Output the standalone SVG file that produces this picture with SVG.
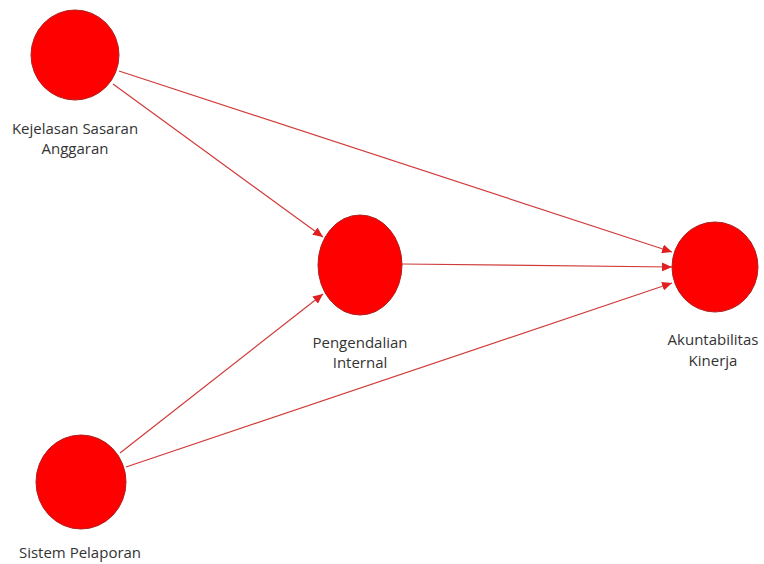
<svg xmlns="http://www.w3.org/2000/svg" width="764" height="564" viewBox="0 0 764 564">
<style>
.node{fill:#ff0000;stroke:#b02020;stroke-width:1}
.lbl{font-family:"Open Sans","Noto Sans",sans-serif;font-size:15px;fill:#333;text-anchor:middle}
.edge{stroke:#d03a3a;stroke-width:1.2;fill:none;marker-end:url(#arr)}
</style>
<defs>
<marker id="arr" markerUnits="userSpaceOnUse" markerWidth="11" markerHeight="9" refX="10" refY="4.5" orient="auto">
<path d="M0,0 L10,4.5 L0,9 z" fill="#e02020"/>
</marker>
</defs>
<rect width="764" height="564" fill="#ffffff"/>
<g id="connectors">
<line class="edge" x1="119" y1="71" x2="672" y2="252"/>
<line class="edge" x1="113" y1="84" x2="323" y2="237"/>
<line class="edge" x1="402" y1="264" x2="672" y2="267"/>
<line class="edge" x1="120" y1="453" x2="323" y2="294"/>
<line class="edge" x1="126" y1="467" x2="672" y2="283"/>
</g>
<g id="node-kejelasan">
<ellipse class="node" cx="75" cy="55" rx="44" ry="45"/>
<text class="lbl" x="75" y="134">Kejelasan Sasaran</text>
<text class="lbl" x="75" y="154">Anggaran</text>
</g>
<g id="node-pengendalian">
<ellipse class="node" cx="360" cy="265" rx="42" ry="50"/>
<text class="lbl" x="360" y="348">Pengendalian</text>
<text class="lbl" x="360" y="368">Internal</text>
</g>
<g id="node-akuntabilitas">
<ellipse class="node" cx="715" cy="267" rx="43" ry="45"/>
<text class="lbl" x="713" y="345">Akuntabilitas</text>
<text class="lbl" x="713" y="366">Kinerja</text>
</g>
<g id="node-sistem">
<ellipse class="node" cx="81" cy="482" rx="45" ry="47"/>
<text class="lbl" x="80" y="558">Sistem Pelaporan</text>
</g>
</svg>
